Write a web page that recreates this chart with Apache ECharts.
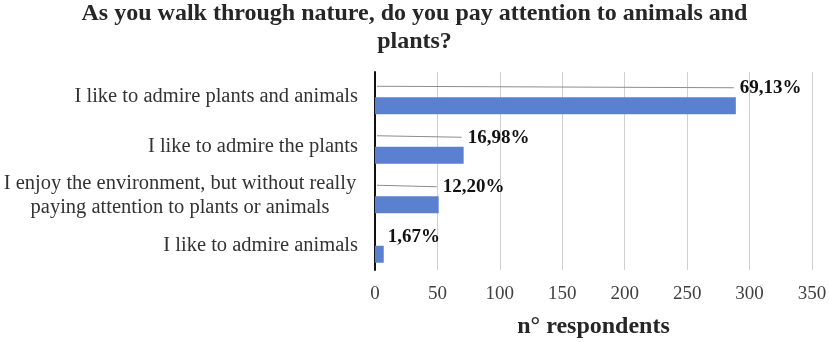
<!DOCTYPE html>
<html>
<head>
<meta charset="utf-8">
<script src="https://cdn.jsdelivr.net/npm/echarts@6/dist/echarts.min.js"></script>
<style>
  html,body{margin:0;padding:0;background:#fff;}
  #chart{width:829px;height:342px;}
</style>
</head>
<body>
<div id="chart"></div>
<script>
var answers = [
  "I like to admire plants and animals",
  "I like to admire the plants",
  "I enjoy the environment, but without really\npaying attention to plants or animals",
  "I like to admire animals"
];
var respondents = [289, 71, 51, 7];
var percentLabels = ["69,13%", "16,98%", "12,20%", "1,67%"];
var withLeader = [true, true, true, false];

var serif = "Liberation Serif";
var chart = echarts.init(document.getElementById("chart"));

var option = {
  animation: false,
  title: {
    text: "As you walk through nature, do you pay attention to animals and\nplants?",
    left: "center",
    top: 0,
    padding: 0,
    textStyle: {
      fontFamily: serif,
      fontWeight: "bold",
      fontSize: 24,
      lineHeight: 28,
      color: "#262626"
    }
  },
  grid: { left: 375, right: 17, top: 72, bottom: 72, outerBoundsMode: "none" },
  xAxis: {
    type: "value",
    min: 0,
    max: 350,
    interval: 50,
    name: "n° respondents",
    nameLocation: "middle",
    nameGap: 45,
    nameTextStyle: { fontFamily: serif, fontWeight: "bold", fontSize: 24, color: "#262626" },
    axisLine: { show: false },
    axisTick: { show: false },
    axisLabel: { fontFamily: serif, fontSize: 19, color: "#404040", margin: 15 },
    splitLine: { show: true, lineStyle: { color: "#d0d0d0", width: 1 } }
  },
  yAxis: {
    type: "category",
    inverse: true,
    data: answers,
    axisLine: { show: true, lineStyle: { color: "#111", width: 2 } },
    axisTick: { show: false },
    axisLabel: {
      margin: 17,
      fontFamily: serif,
      fontSize: 20.5,
      color: "#333",
      formatter: function (v) {
        if (v.indexOf("\n") < 0) return v;
        return v.split("\n").map(function (l) { return "{w|" + l + "}"; }).join("\n");
      },
      rich: {
        w: { width: 356, align: "center", fontFamily: serif, fontSize: 20.5, color: "#333", lineHeight: 24 }
      }
    }
  },
  series: [
    {
      // empty spacer slot, pushes the real bar down inside its band like the Excel cluster
      type: "bar",
      data: [],
      barWidth: 18,
      barGap: 0
    },
    {
      type: "bar",
      data: respondents,
      barWidth: 17,
      barGap: 0,
      itemStyle: { color: "#5b80d0" },
      label: {
        show: true,
        position: ["100%", -9],
        offset: [4, 0],
        align: "left",
        verticalAlign: "middle",
        fontFamily: serif,
        fontWeight: "bold",
        fontSize: 19,
        color: "#111",
        formatter: function (p) { return percentLabels[p.dataIndex]; }
      }
    },
    {
      type: "custom",
      clip: false,
      silent: true,
      data: respondents.map(function (v, i) { return [v, i]; }),
      renderItem: function (params, api) {
        if (!withLeader[params.dataIndex]) return null;
        var start = api.coord([0, api.value(1)]);
        var end = api.coord([api.value(0), api.value(1)]);
        return {
          type: "line",
          shape: { x1: start[0] + 2, y1: start[1] - 10.5, x2: end[0] - 2, y2: end[1] - 9 },
          style: { stroke: "#8c8c8c", lineWidth: 1 }
        };
      },
      z: 3
    }
  ]
};
chart.setOption(option);
</script>
</body>
</html>
